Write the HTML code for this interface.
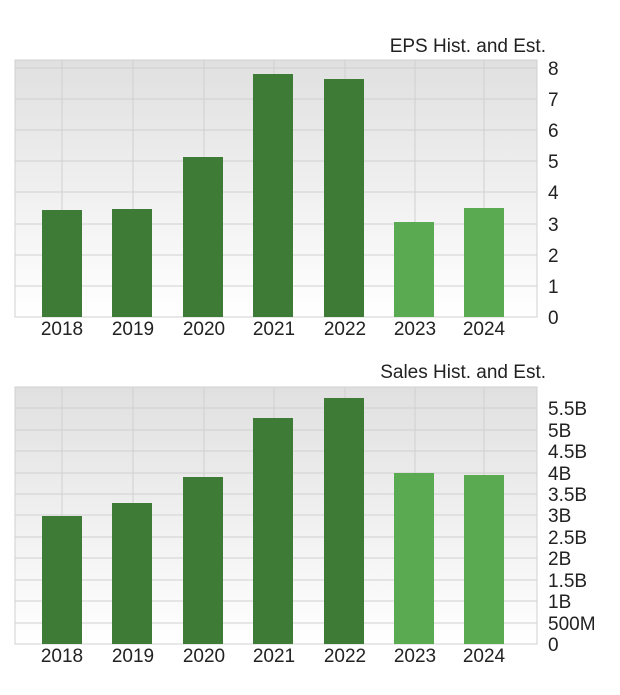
<!DOCTYPE html>
<html><head><style>body{margin:0;background:#fff}svg{display:block}</style></head><body>
<svg width="620" height="695" xmlns="http://www.w3.org/2000/svg" font-family="Liberation Sans, sans-serif">
<defs><linearGradient id="g" x1="0" y1="0" x2="0" y2="1"><stop offset="0" stop-color="#e0e0e0"/><stop offset="1" stop-color="#ffffff"/></linearGradient></defs>
<!-- EPS -->
<text x="546" y="52" font-size="19" text-anchor="end" fill="#222">EPS Hist. and Est.</text>
<rect x="15" y="60" width="522" height="257" fill="url(#g)" stroke="#d0d0d0"/>
<g stroke="#d0d0d0" stroke-width="1">
<line x1="15" x2="537" y1="68" y2="68"/><line x1="15" x2="537" y1="99" y2="99"/><line x1="15" x2="537" y1="130" y2="130"/><line x1="15" x2="537" y1="161" y2="161"/><line x1="15" x2="537" y1="192" y2="192"/><line x1="15" x2="537" y1="224" y2="224"/><line x1="15" x2="537" y1="255" y2="255"/><line x1="15" x2="537" y1="286" y2="286"/>
<line x1="62" x2="62" y1="60" y2="317"/><line x1="133" x2="133" y1="60" y2="317"/><line x1="204" x2="204" y1="60" y2="317"/><line x1="274" x2="274" y1="60" y2="317"/><line x1="345" x2="345" y1="60" y2="317"/><line x1="415" x2="415" y1="60" y2="317"/><line x1="484" x2="484" y1="60" y2="317"/>
</g>
<g fill="#3e7b36">
<rect x="42" y="210" width="40" height="107"/><rect x="112" y="209" width="40" height="108"/><rect x="183" y="157" width="40" height="160"/><rect x="253" y="74" width="40" height="243"/><rect x="324" y="79" width="40" height="238"/>
</g>
<g fill="#5aaa52"><rect x="394" y="222" width="40" height="95"/><rect x="464" y="208" width="40" height="109"/></g>
<g font-size="19" fill="#222" text-anchor="middle">
<text x="62" y="335">2018</text><text x="133" y="335">2019</text><text x="204" y="335">2020</text><text x="274" y="335">2021</text><text x="345" y="335">2022</text><text x="415" y="335">2023</text><text x="484" y="335">2024</text>
</g>
<g font-size="19" fill="#222">
<text x="548" y="75">8</text><text x="548" y="106">7</text><text x="548" y="137">6</text><text x="548" y="168">5</text><text x="548" y="199">4</text><text x="548" y="231">3</text><text x="548" y="262">2</text><text x="548" y="293">1</text><text x="548" y="324">0</text>
</g>
<!-- Sales -->
<text x="546" y="378" font-size="19" text-anchor="end" fill="#222">Sales Hist. and Est.</text>
<rect x="15" y="387" width="522" height="257" fill="url(#g)" stroke="#d0d0d0"/>
<g stroke="#d0d0d0" stroke-width="1">
<line x1="15" x2="537" y1="408" y2="408"/><line x1="15" x2="537" y1="430" y2="430"/><line x1="15" x2="537" y1="451" y2="451"/><line x1="15" x2="537" y1="473" y2="473"/><line x1="15" x2="537" y1="494" y2="494"/><line x1="15" x2="537" y1="515" y2="515"/><line x1="15" x2="537" y1="537" y2="537"/><line x1="15" x2="537" y1="558" y2="558"/><line x1="15" x2="537" y1="580" y2="580"/><line x1="15" x2="537" y1="601" y2="601"/><line x1="15" x2="537" y1="623" y2="623"/>
<line x1="62" x2="62" y1="387" y2="644"/><line x1="133" x2="133" y1="387" y2="644"/><line x1="204" x2="204" y1="387" y2="644"/><line x1="274" x2="274" y1="387" y2="644"/><line x1="345" x2="345" y1="387" y2="644"/><line x1="415" x2="415" y1="387" y2="644"/><line x1="484" x2="484" y1="387" y2="644"/>
</g>
<g fill="#3e7b36">
<rect x="42" y="516" width="40" height="128"/><rect x="112" y="503" width="40" height="141"/><rect x="183" y="477" width="40" height="167"/><rect x="253" y="418" width="40" height="226"/><rect x="324" y="398" width="40" height="246"/>
</g>
<g fill="#5aaa52"><rect x="394" y="473" width="40" height="171"/><rect x="464" y="475" width="40" height="169"/></g>
<g font-size="19" fill="#222" text-anchor="middle">
<text x="62" y="662">2018</text><text x="133" y="662">2019</text><text x="204" y="662">2020</text><text x="274" y="662">2021</text><text x="345" y="662">2022</text><text x="415" y="662">2023</text><text x="484" y="662">2024</text>
</g>
<g font-size="19" fill="#222">
<text x="548" y="415">5.5B</text><text x="548" y="437">5B</text><text x="548" y="458">4.5B</text><text x="548" y="480">4B</text><text x="548" y="501">3.5B</text><text x="548" y="522">3B</text><text x="548" y="544">2.5B</text><text x="548" y="565">2B</text><text x="548" y="587">1.5B</text><text x="548" y="608">1B</text><text x="548" y="630">500M</text><text x="548" y="651">0</text>
</g>
</svg>
</body></html>
